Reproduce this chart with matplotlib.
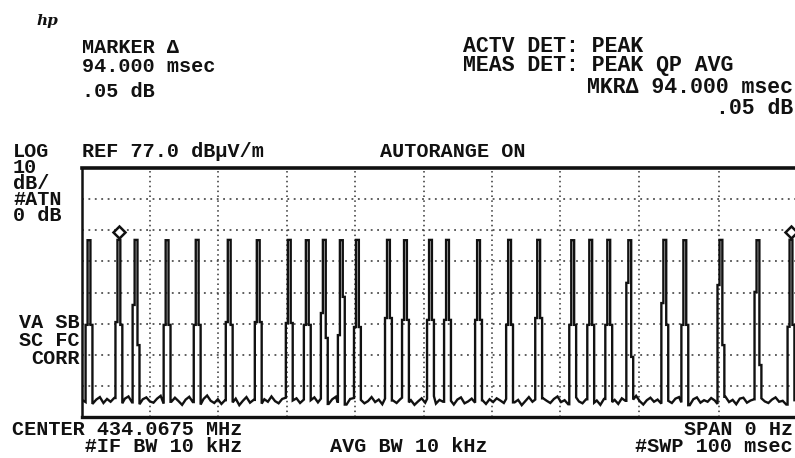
import numpy as np
import matplotlib
matplotlib.use("Agg")
import matplotlib.pyplot as plt
from matplotlib import transforms
from matplotlib.font_manager import FontProperties

# ---------------- data ----------------
ref_level_db = 77.0          # REF 77.0 dBuV/m, 10 dB/div, 8 divisions
db_per_div = 10.0
sweep_ms = 100.0             # SWP 100 msec

# pulse centre times (ms)
pulse_ms = [0.98, 5.16, 7.56, 11.90, 16.11, 20.59, 24.65, 28.99, 31.51, 33.89,
            36.27, 38.52, 42.86, 45.24, 48.74, 51.12, 55.46, 59.80, 63.87, 68.63,
            71.15, 73.67, 76.61, 81.51, 84.31, 89.36, 94.54, 99.16]
# pulse peak level (dBuV/m)
pulse_peak_db = [53.8, 53.9, 53.9, 53.8, 53.9, 53.9, 53.8, 53.9, 53.8, 53.9,
                 53.8, 53.9, 53.9, 53.8, 53.9, 53.9, 53.8, 53.9, 53.9, 53.8,
                 53.9, 53.9, 53.8, 53.9, 53.8, 53.9, 53.8, 53.95]
# shoulder level on the rising (left) and falling (right) edge (dBuV/m)
shoulder_left_db = [26.6, 27.5, 33.0, 26.6, 26.6, 27.5, 27.5, 27.2, 26.6, 30.4,
                    23.3, 25.9, 28.8, 28.2, 28.2, 28.2, 28.2, 26.6, 28.8, 26.6,
                    26.6, 26.6, 40.1, 33.6, 26.6, 39.4, 37.2, 26.0]
shoulder_right_db = [26.6, 26.6, 20.1, 26.6, 26.6, 26.6, 27.5, 27.2, 26.6, 22.4,
                     35.6, 25.9, 28.8, 28.2, 28.2, 28.2, 28.2, 26.6, 28.8, 26.6,
                     26.6, 26.6, 16.3, 26.6, 26.6, 20.1, 13.7, 26.6]

# noise floor between pulses, one value every 0.5 ms (dBuV/m)
noise_step_ms = 0.5
noise_db = [
    2.5, 1.8, 3.0, 1.2, 2.6, 3.4, 1.5, 2.8, 1.9, 3.1, 2.2, 1.4, 2.9, 3.6, 1.7, 2.4, 1.1, 2.7, 3.3, 2.0,
    1.6, 2.9, 3.8, 1.3, 2.5, 1.9, 3.2, 2.1, 0.9, 2.6, 3.5, 1.8, 2.3, 1.0, 2.8, 3.9, 2.2, 1.5, 2.7, 1.2,
    2.4, 3.1, 1.7, 2.9, 0.8, 2.2, 3.4, 1.6, 2.5, 3.0, 1.3, 2.7, 1.9, 3.6, 2.1, 1.4, 2.8, 3.2, 1.8, 2.3,
    3.0, 1.5, 2.6, 0.9, 2.4, 3.3, 1.7, 2.9, 2.0, 1.2, 2.7, 3.5, 1.6, 2.2, 1.0, 2.8, 3.1, 1.9, 2.5, 1.4,
    2.1, 3.4, 1.8, 2.6, 1.1, 2.9, 3.6, 2.3, 1.5, 2.7, 3.2, 1.7, 2.4, 0.9, 2.0, 3.0, 1.6, 2.8, 3.7, 1.3,
    2.5, 1.9, 3.1, 2.2, 1.0, 2.6, 3.3, 1.4, 2.0, 2.9, 1.6, 3.5, 2.4, 1.2, 2.7, 1.8, 3.0, 2.3, 1.5, 2.8,
    3.2, 1.7, 2.5, 0.8, 2.1, 3.4, 1.9, 2.6, 1.3, 3.0, 2.2, 1.5, 2.8, 3.6, 1.8, 2.4, 1.1, 2.9, 3.3, 2.0,
    1.4, 2.7, 3.1, 1.6, 2.3, 0.9, 2.8, 3.5, 1.8, 2.5, 1.2, 3.0, 2.2, 1.7, 2.6, 3.8, 2.1, 1.0, 2.4, 3.2,
    1.9, 2.6, 1.3, 3.0, 2.2, 1.5, 2.9, 3.4, 1.7, 2.1, 0.8, 2.7, 3.3, 1.6, 2.4, 1.9, 3.1, 2.3, 1.2, 2.8,
    3.5, 1.8, 2.5, 1.1, 2.9, 3.2, 1.6, 2.3, 2.7, 1.4, 3.0, 2.0, 1.5, 2.6, 3.3, 1.9, 2.2, 1.0, 2.8, 2.4,
]

# vertical graticule lines as they appear on the (scanned) screen, in ms
graticule_ms = [9.5, 19.0, 28.7, 38.2, 47.8, 57.4, 66.9, 77.9, 89.1]

marker_pulses = [1, 27]      # marker and delta-marker pulse indices

# ---------------- build the trace ----------------
HALF_BASE = 0.48   # half width of pulse base (ms)
HALF_TOP = 0.20    # half width of pulse top (ms)

pts = []
noise_t = [i * noise_step_ms for i in range(len(noise_db))]
for t, v in zip(noise_t, noise_db):
    if all(abs(t - tp) > HALF_BASE + 0.05 for tp in pulse_ms):
        pts.append((t, 0, v))

def floor_at(t):
    i = int(round(t / noise_step_ms))
    i = max(0, min(len(noise_db) - 1, i))
    return noise_db[i]

for tp, pk, sl, sr in zip(pulse_ms, pulse_peak_db, shoulder_left_db, shoulder_right_db):
    seq = [
        (tp - HALF_BASE, floor_at(tp - HALF_BASE)),
        (tp - HALF_BASE, sl),
        (tp - HALF_TOP, sl),
        (tp - HALF_TOP, pk),
        (tp + HALF_TOP, pk),
        (tp + HALF_TOP, sr),
        (tp + HALF_BASE, sr),
        (tp + HALF_BASE, floor_at(tp + HALF_BASE)),
    ]
    for k, (t, v) in enumerate(seq):
        pts.append((t, k, v))

pts.sort(key=lambda p: (p[0], p[1]))
trace_t = [p[0] for p in pts]
trace_db = [p[2] for p in pts]

# ---------------- figure ----------------
W, H = 795, 458
fig = plt.figure(figsize=(W / 100, H / 100), dpi=100)
fig.patch.set_facecolor("white")

ax_left, ax_right, ax_top, ax_bot = 82, 797, 168, 417
ax = fig.add_axes([ax_left / W, (H - ax_bot) / H,
                   (ax_right - ax_left) / W, (ax_bot - ax_top) / H])
ax.set_xlim(0, sweep_ms)
ax.set_ylim(ref_level_db - 8 * db_per_div, ref_level_db)

ax.set_xticks(graticule_ms)
ax.set_yticks([ref_level_db - k * db_per_div for k in range(1, 8)])
ax.tick_params(length=0, labelbottom=False, labelleft=False)
ax.xaxis.grid(True, linestyle=(0, (1.0, 2.2)), linewidth=1.1, color="#333333")
ax.yaxis.grid(True, linestyle=(0, (1.2, 3.0)), linewidth=1.1, color="#333333")
ax.set_axisbelow(True)

for side, lw in (("top", 2.6), ("bottom", 2.4), ("left", 1.8)):
    ax.spines[side].set_linewidth(lw)
    ax.spines[side].set_color("#111111")
ax.spines["right"].set_visible(False)

ax.plot(trace_t, trace_db, color="#111111", linewidth=1.7,
        solid_joinstyle="miter", zorder=3)

# marker diamonds sitting on top of the marked peaks
mk_trans = transforms.offset_copy(ax.transData, fig=fig, x=0, y=8, units="dots")
ax.plot([pulse_ms[i] for i in marker_pulses],
        [pulse_peak_db[i] for i in marker_pulses],
        linestyle="none", marker="D", markersize=6.5, markerfacecolor="white",
        markeredgecolor="#111111", markeredgewidth=1.8, transform=mk_trans,
        zorder=4, clip_on=False)

# ---------------- annotation text ----------------
FONT = ["Liberation Mono", "DejaVu Sans Mono"]
FS = 14.5
renderer = fig.canvas.get_renderer()

def put(x, y, s, ha="left", fs=FS, pitch=None):
    """Text whose last line's baseline is at pixel (x, y); pitch = baseline step in px."""
    ls = 1.2
    if pitch is not None:
        prop = FontProperties(family=FONT, size=fs, weight="bold")
        _, h, d = renderer.get_text_width_height_descent("lp", prop, ismath=False)
        ls = (pitch - d) / (h - d)
    fig.text(x / W, 1 - y / H, s, ha=ha, va="baseline", fontsize=fs,
             family=FONT, fontweight="bold", color="#111111",
             linespacing=ls, multialignment=ha)

fig.text(36 / W, 1 - 25 / H, "hp", ha="left", va="baseline", fontsize=11,
         family="DejaVu Serif", fontstyle="italic", fontweight="bold",
         color="#111111")

put(82, 72, "MARKER Δ\n94.000 msec", pitch=19)
put(82, 97, ".05 dB")

put(463, 71, "ACTV DET: PEAK\nMEAS DET: PEAK QP AVG", fs=15.5, pitch=19)
put(793, 114, "MKRΔ 94.000 msec\n.05 dB", ha="right", fs=15.5, pitch=21)

put(13, 221, "LOG\n10\ndB/\n#ATN\n0 dB", pitch=16)

put(82, 157, "REF 77.0 dBµV/m")
put(380, 157, "AUTORANGE ON")

put(80, 364, "VA SB\nSC FC\nCORR", ha="right", pitch=18)

put(12, 452, "CENTER 434.0675 MHz\n      #IF BW 10 kHz", pitch=17)
put(330, 452, "AVG BW 10 kHz")
put(793, 452, "SPAN 0 Hz\n#SWP 100 msec", ha="right", pitch=17)

fig.savefig("out.png", dpi=100, facecolor="white")
